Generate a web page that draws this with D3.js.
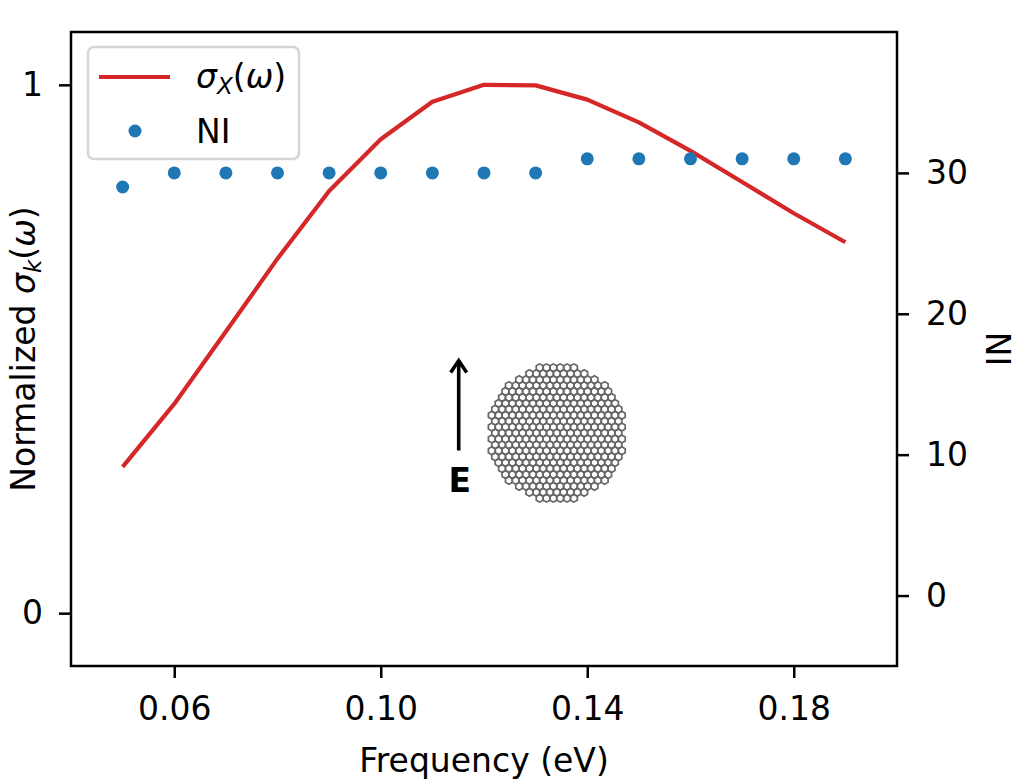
<!DOCTYPE html>
<meta charset="utf-8">
<style>
  body { margin: 0; background: #fff; }
  text { font-family: "DejaVu Sans", sans-serif; }
</style>
<body>
<script src="https://cdn.jsdelivr.net/npm/d3@7"></script>
<script>

  // frequencies (eV)
  var freq = [0.05, 0.06, 0.07, 0.08, 0.09, 0.10, 0.11, 0.12, 0.13, 0.14, 0.15, 0.16, 0.17, 0.18, 0.19];
  // normalized sigma_x(omega)
  var sigmaX = [0.277, 0.396, 0.533, 0.671, 0.799, 0.897, 0.968, 1.0, 0.999, 0.972, 0.929, 0.875, 0.816, 0.757, 0.702];
  // NI
  var ni = [29, 30, 30, 30, 30, 30, 30, 30, 30, 31, 31, 31, 31, 31, 31];

  var xTicks = [0.06, 0.10, 0.14, 0.18];
  var yLeftTicks = [0, 1];
  var yRightTicks = [0, 10, 20, 30];

  var W = 1020, H = 780;
  var axL = 71, axR = 897, axT = 32, axB = 666;
  var fs = 33;

  var svg = d3.select('body').append('svg')
              .attr('width', W)
              .attr('height', H);

  var x = d3.scaleLinear().domain([0.04, 0.20]).range([axL, axR]);
  var yL = d3.scaleLinear().domain([-0.1, 1.1]).range([axB, axT]);
  var yR = d3.scaleLinear().domain([-5, 40]).range([axB, axT]);

  function styleAxis(g) {
      g.select('.domain').remove();
      g.selectAll('.tick line').attr('stroke', '#000').attr('stroke-width', 2.5);
      g.selectAll('.tick text').attr('fill', '#000')
       .style('font-size', fs + 'px')
       .style('font-family', '"DejaVu Sans", sans-serif');
  }

  svg.append('g')
     .attr('transform', 'translate(0,' + axB + ')')
     .call(d3.axisBottom(x).tickValues(xTicks).tickFormat(d3.format('.2f'))
             .tickSize(12).tickPadding(19))
     .call(styleAxis);

  svg.append('g')
     .attr('transform', 'translate(' + axL + ',0)')
     .call(d3.axisLeft(yL).tickValues(yLeftTicks).tickFormat(d3.format('d'))
             .tickSize(12).tickPadding(16))
     .call(styleAxis);

  svg.append('g')
     .attr('transform', 'translate(' + axR + ',0)')
     .call(d3.axisRight(yR).tickValues(yRightTicks).tickFormat(d3.format('d'))
             .tickSize(12).tickPadding(17))
     .call(styleAxis);

  // sigma line
  var line = d3.line()
               .x((d, i) => x(freq[i]))
               .y(d => yL(d));

  svg.append('path')
     .datum(sigmaX)
     .attr('d', line)
     .attr('fill', 'none')
     .attr('stroke', '#d62728')
     .attr('stroke-width', 4.2)
     .attr('stroke-linejoin', 'round');

  // NI dots
  svg.append('g').selectAll('circle')
     .data(ni)
     .enter()
     .append('circle')
     .attr('cx', (d, i) => x(freq[i]))
     .attr('cy', d => yR(d))
     .attr('r', 6.5)
     .attr('fill', '#1f77b4');

  // inset: graphene flake + field arrow
  var flakeCx = x(0.1341), flakeCy = yL(0.341), flakeR = 68;
  var a = 3.95, hw = Math.sqrt(3) * a;
  var hexes = [];
  for (var j = -14; j <= 14; j++) {
      for (var i = -14; i <= 14; i++) {
          var cx = i * hw + (Math.abs(j) % 2 ? hw / 2 : 0);
          var cy = j * 1.5 * a;
          if (cx * cx + cy * cy <= flakeR * flakeR) hexes.push([cx, cy]);
      }
  }
  var hexPath = d3.range(6).map(k => {
      var ang = Math.PI / 180 * (60 * k - 90);
      return [a * Math.cos(ang), a * Math.sin(ang)];
  });
  var flake = svg.append('g')
                 .attr('transform', 'translate(' + flakeCx + ',' + flakeCy + ')');
  flake.selectAll('path')
       .data(hexes)
       .enter()
       .append('path')
       .attr('d', d => 'M' + hexPath.map(p => [d[0] + p[0], d[1] + p[1]].join(',')).join('L') + 'Z')
       .attr('fill', 'none')
       .attr('stroke', '#666')
       .attr('stroke-width', 1.7);

  var ax = x(0.1151), ay0 = yL(0.308), ay1 = yL(0.478);
  svg.append('path')
     .attr('d', 'M' + ax + ',' + ay0 + 'L' + ax + ',' + (ay1 + 1) +
                'M' + (ax - 8) + ',' + (ay1 + 12) + 'L' + ax + ',' + ay1 + 'L' + (ax + 8) + ',' + (ay1 + 12))
     .attr('fill', 'none')
     .attr('stroke', '#000')
     .attr('stroke-width', 3.6);

  svg.append('text')
     .attr('x', ax + 1)
     .attr('y', ay0 + 42)
     .attr('text-anchor', 'middle')
     .style('font-size', fs + 'px')
     .style('font-weight', 'bold')
     .text('E');

  // frame
  svg.append('rect')
     .attr('x', axL).attr('y', axT)
     .attr('width', axR - axL).attr('height', axB - axT)
     .attr('fill', 'none')
     .attr('stroke', '#000')
     .attr('stroke-width', 2.5);

  // labels
  svg.append('text')
     .attr('x', (axL + axR) / 2)
     .attr('y', 772)
     .attr('text-anchor', 'middle')
     .style('font-size', fs + 'px')
     .text('Frequency (eV)');

  var yl = svg.append('text')
              .attr('transform', 'translate(35,' + (axT + axB) / 2 + ') rotate(-90)')
              .attr('text-anchor', 'middle')
              .style('font-size', fs + 'px');
  yl.append('tspan').text('Normalized ');
  yl.append('tspan').style('font-style', 'italic').text('σ');
  yl.append('tspan').style('font-style', 'italic').style('font-size', (fs * 0.7) + 'px')
    .attr('dy', 6).text('k');
  yl.append('tspan').attr('dy', -6).text('(');
  yl.append('tspan').style('font-style', 'italic').text('ω');
  yl.append('tspan').text(')');

  svg.append('text')
     .attr('transform', 'translate(986,' + (axT + axB) / 2 + ') rotate(90)')
     .attr('text-anchor', 'middle')
     .style('font-size', fs + 'px')
     .text('NI');

  // legend
  var lg = svg.append('g').attr('transform', 'translate(88,47)');
  lg.append('rect')
    .attr('width', 211).attr('height', 112)
    .attr('rx', 6)
    .attr('fill', '#fff').attr('fill-opacity', 0.8)
    .attr('stroke', '#d5d5d5').attr('stroke-width', 2.5);
  lg.append('line')
    .attr('x1', 11).attr('x2', 82).attr('y1', 30).attr('y2', 30)
    .attr('stroke', '#d62728').attr('stroke-width', 4.2);
  var lt = lg.append('text').attr('x', 108).attr('y', 41).style('font-size', fs + 'px');
  lt.append('tspan').style('font-style', 'italic').text('σ');
  lt.append('tspan').style('font-style', 'italic').style('font-size', (fs * 0.7) + 'px')
    .attr('dy', 6).text('X');
  lt.append('tspan').attr('dy', -6).text('(');
  lt.append('tspan').style('font-style', 'italic').text('ω');
  lt.append('tspan').text(')');
  lg.append('circle')
    .attr('cx', 47).attr('cy', 84).attr('r', 6.5)
    .attr('fill', '#1f77b4');
  lg.append('text').attr('x', 108).attr('y', 96).style('font-size', fs + 'px').text('NI');

</script>
</body>
